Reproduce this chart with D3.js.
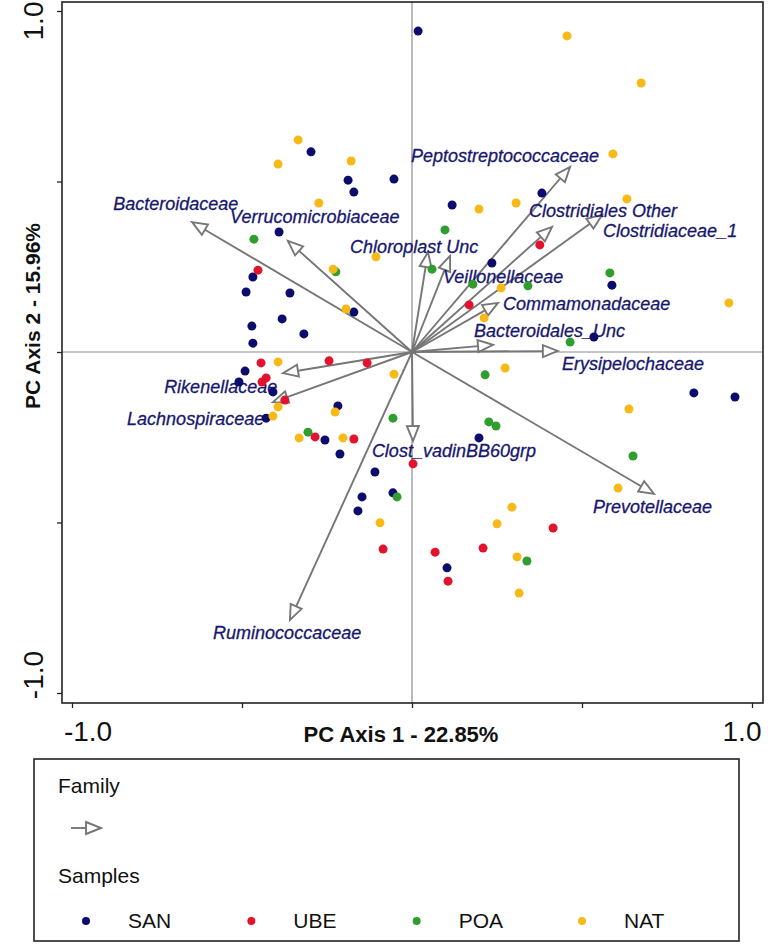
<!DOCTYPE html>
<html>
<head>
<meta charset="utf-8">
<script src="https://cdn.jsdelivr.net/npm/d3@7/dist/d3.min.js"></script>
<style>
  html, body { margin: 0; padding: 0; background: #fff; }
  svg { display: block; }
  text { font-family: "Liberation Sans", Arial, sans-serif; }
</style>
</head>
<body>
<svg id="chart" width="768" height="949"></svg>
<script>
// ---------------- DATA ----------------
const groups = ["SAN", "UBE", "POA", "NAT"];
const groupColors = ["#0c0c6c", "#e3122d", "#2f9e2f", "#f7b916"];

const sanPoints = [
  [0.018, 0.941], [-0.297, 0.587], [-0.188, 0.504], [-0.171, 0.469], [-0.053, 0.507],
  [-0.391, 0.352], [-0.468, 0.220], [-0.488, 0.176], [-0.359, 0.173], [-0.171, 0.117],
  [-0.471, 0.076], [-0.382, 0.097], [-0.318, 0.053], [-0.468, 0.026], [0.382, 0.466],
  [0.118, 0.431], [0.235, 0.261], [0.588, 0.196], [0.535, 0.044], [-0.491, -0.056],
  [-0.509, -0.088], [-0.409, -0.117], [-0.429, -0.194], [-0.218, -0.158], [-0.256, -0.258],
  [-0.212, -0.299], [-0.109, -0.352], [-0.147, -0.425], [-0.056, -0.413], [-0.159, -0.466],
  [0.829, -0.120], [0.950, -0.132], [0.197, -0.252], [0.103, -0.633]
];
const ubePoints = [
  [-0.453, 0.240], [0.376, 0.314], [0.168, 0.138], [-0.444, -0.032], [-0.244, -0.026],
  [-0.132, -0.032], [-0.441, -0.088], [-0.429, -0.076], [-0.374, -0.141], [-0.285, -0.249],
  [-0.171, -0.255], [0.003, -0.328], [-0.085, -0.578], [0.415, -0.516], [0.068, -0.587],
  [0.209, -0.575], [0.106, -0.672]
];
const poaPoints = [
  [-0.465, 0.331], [-0.224, 0.235], [0.097, 0.358], [0.059, 0.243], [0.179, 0.199],
  [0.341, 0.194], [0.582, 0.232], [0.465, 0.029], [-0.056, -0.194], [-0.306, -0.235],
  [-0.044, -0.425], [0.215, -0.067], [0.226, -0.205], [0.247, -0.217], [0.650, -0.305],
  [0.338, -0.613]
];
const natPoints = [
  [-0.335, 0.622], [-0.394, 0.551], [-0.179, 0.560], [-0.274, 0.437], [-0.106, 0.279],
  [-0.232, 0.243], [-0.194, 0.126], [0.456, 0.927], [0.674, 0.789], [0.591, 0.581],
  [0.632, 0.449], [0.197, 0.419], [0.306, 0.437], [0.262, 0.188], [0.932, 0.144],
  [0.212, 0.100], [-0.394, -0.029], [-0.053, -0.065], [-0.394, -0.161], [-0.409, -0.188],
  [-0.226, -0.176], [-0.332, -0.252], [-0.203, -0.252], [-0.094, -0.501], [0.274, -0.047],
  [0.638, -0.167], [0.606, -0.399], [0.294, -0.455], [0.250, -0.504], [0.309, -0.601],
  [0.315, -0.707]
];
const samplePoints = [sanPoints, ubePoints, poaPoints, natPoints];

const families = [
  "Bacteroidaceae", "Verrucomicrobiaceae", "Chloroplast Unc", "Veillonellaceae",
  "Peptostreptococcaceae", "Clostridiales Other", "Clostridiaceae_1", "Commamonadaceae",
  "Bacteroidales_Unc", "Erysipelochaceae", "Prevotellaceae", "Clost_vadinBB60grp",
  "Ruminococcaceae", "Rikenellaceae", "Lachnospiraceae"
];
const familyPC1 = [-0.647, -0.365, 0.047, 0.112, 0.465, 0.412, 0.559, 0.253, 0.238, 0.429, 0.712, 0.003, -0.359, -0.379, -0.409];
const familyPC2 = [0.381, 0.326, 0.293, 0.282, 0.543, 0.367, 0.402, 0.144, 0.021, 0.003, -0.416, -0.261, -0.786, -0.062, -0.147];

const xTicks = [-1, -0.5, 0, 0.5, 1];
const yTicks = [-1, -0.5, 0, 0.5, 1];
const tickLabels = ["-1.0", "1.0"];
const xTitle = "PC Axis 1 - 22.85%";
const yTitle = "PC Axis 2 - 15.96%";
const legendTitles = ["Family", "Samples"];

// ---------------- LAYOUT (label anchors, in data units) ----------------
const labelAnchor = [
  [-0.879, 0.416], [-0.535, 0.378], [-0.182, 0.290], [0.091, 0.202],
  [-0.003, 0.557], [0.344, 0.396], [0.562, 0.337], [0.268, 0.123],
  [0.182, 0.044], [0.441, -0.053], [0.532, -0.472], [-0.118, -0.308],
  [-0.585, -0.842], [-0.729, -0.120], [-0.838, -0.214]
];

// ---------------- DRAW ----------------
const svg = d3.select("#chart");
const x = d3.scaleLinear().domain([-1, 1]).range([72, 752]);
const y = d3.scaleLinear().domain([-1, 1]).range([693, 11]);
const box = { left: 62, right: 763, top: 2, bottom: 703 };

const gray = "#767676";

// reference lines through origin
svg.append("line")
  .attr("x1", x(0)).attr("x2", x(0)).attr("y1", box.top).attr("y2", box.bottom)
  .attr("stroke", "#8c8c8c").attr("stroke-width", 1.2);
svg.append("line")
  .attr("x1", box.left).attr("x2", box.right).attr("y1", y(0)).attr("y2", y(0))
  .attr("stroke", "#8c8c8c").attr("stroke-width", 1.2);

// axes (ticks only)
const gx = svg.append("g").attr("transform", `translate(0,${box.bottom})`)
  .call(d3.axisBottom(x).tickValues(xTicks).tickSize(5).tickFormat(""));
const gy = svg.append("g").attr("transform", `translate(${box.left},0)`)
  .call(d3.axisLeft(y).tickValues(yTicks).tickSize(5).tickFormat(""));
[gx, gy].forEach(g => {
  g.select(".domain").remove();
  g.selectAll(".tick line").attr("stroke", "#222").attr("stroke-width", 1.3);
});

// box
svg.append("rect")
  .attr("x", box.left).attr("y", box.top)
  .attr("width", box.right - box.left).attr("height", box.bottom - box.top)
  .attr("fill", "none").attr("stroke", "#222").attr("stroke-width", 1.6);

// tick labels
svg.append("text").attr("x", x(-1) + 16).attr("y", 741).attr("text-anchor", "middle")
  .attr("font-size", 28).attr("fill", "#111").text(tickLabels[0]);
svg.append("text").attr("x", x(1) - 10).attr("y", 741).attr("text-anchor", "middle")
  .attr("font-size", 28).attr("fill", "#111").text(tickLabels[1]);
svg.append("text").attr("transform", `translate(43,${y(1) + 10}) rotate(-90)`)
  .attr("text-anchor", "middle").attr("font-size", 28).attr("fill", "#111").text(tickLabels[1]);
svg.append("text").attr("transform", `translate(43,${y(-1) - 18}) rotate(-90)`)
  .attr("text-anchor", "middle").attr("font-size", 28).attr("fill", "#111").text(tickLabels[0]);

// axis titles
svg.append("text").attr("x", 401).attr("y", 742).attr("text-anchor", "middle")
  .attr("font-size", 22).attr("font-weight", "bold").attr("fill", "#111").text(xTitle);
svg.append("text").attr("transform", `translate(40,316) rotate(-90)`)
  .attr("text-anchor", "middle").attr("font-size", 21).attr("font-weight", "bold")
  .attr("fill", "#111").text(yTitle);

// arrow helper
function arrowPath(x0, y0, x1, y1) {
  const dx = x1 - x0, dy = y1 - y0;
  const len = Math.hypot(dx, dy);
  const ux = dx / len, uy = dy / len;
  const L = 15, W = 6;
  const bx = x1 - ux * L, by = y1 - uy * L;
  return {
    line: [x0, y0, bx, by],
    head: [[x1, y1], [bx - uy * W, by + ux * W], [bx + uy * W, by - ux * W]]
  };
}
function drawArrow(g, x0, y0, x1, y1) {
  const a = arrowPath(x0, y0, x1, y1);
  g.append("line")
    .attr("x1", a.line[0]).attr("y1", a.line[1]).attr("x2", a.line[2]).attr("y2", a.line[3])
    .attr("stroke", gray).attr("stroke-width", 1.9);
  g.append("polygon")
    .attr("points", a.head.map(p => p.join(",")).join(" "))
    .attr("fill", "#fff").attr("stroke", gray).attr("stroke-width", 1.9)
    .attr("stroke-linejoin", "miter");
}

const arrowsG = svg.append("g");
families.forEach((f, i) => {
  drawArrow(arrowsG, x(0), y(0), x(familyPC1[i]), y(familyPC2[i]));
});

// family labels
svg.append("g").selectAll("text").data(families).join("text")
  .attr("x", (d, i) => x(labelAnchor[i][0]))
  .attr("y", (d, i) => y(labelAnchor[i][1]))
  .attr("font-size", 18).attr("font-style", "italic")
  .attr("fill", "#17176e").attr("stroke", "#17176e").attr("stroke-width", 0.3)
  .text(d => d);

// sample points
samplePoints.forEach((pts, gi) => {
  svg.append("g").selectAll("circle").data(pts).join("circle")
    .attr("cx", d => x(d[0])).attr("cy", d => y(d[1])).attr("r", 4.5)
    .attr("fill", groupColors[gi]);
});

// legend
const lg = svg.append("g");
lg.append("rect").attr("x", 34).attr("y", 759).attr("width", 705).attr("height", 182)
  .attr("fill", "none").attr("stroke", "#222").attr("stroke-width", 1.6);
lg.append("text").attr("x", 58).attr("y", 793).attr("font-size", 21).attr("fill", "#111").text(legendTitles[0]);
drawArrow(lg, 71, 828, 101, 828);
lg.append("text").attr("x", 58).attr("y", 883).attr("font-size", 21).attr("fill", "#111").text(legendTitles[1]);
const legX = d3.scalePoint().domain(groups).range([86, 582]);
groups.forEach((g, i) => {
  lg.append("circle").attr("cx", legX(g)).attr("cy", 921).attr("r", 4).attr("fill", groupColors[i]);
  lg.append("text").attr("x", legX(g) + 42).attr("y", 928).attr("font-size", 21)
    .attr("fill", "#111").text(g);
});
</script>
</body>
</html>
